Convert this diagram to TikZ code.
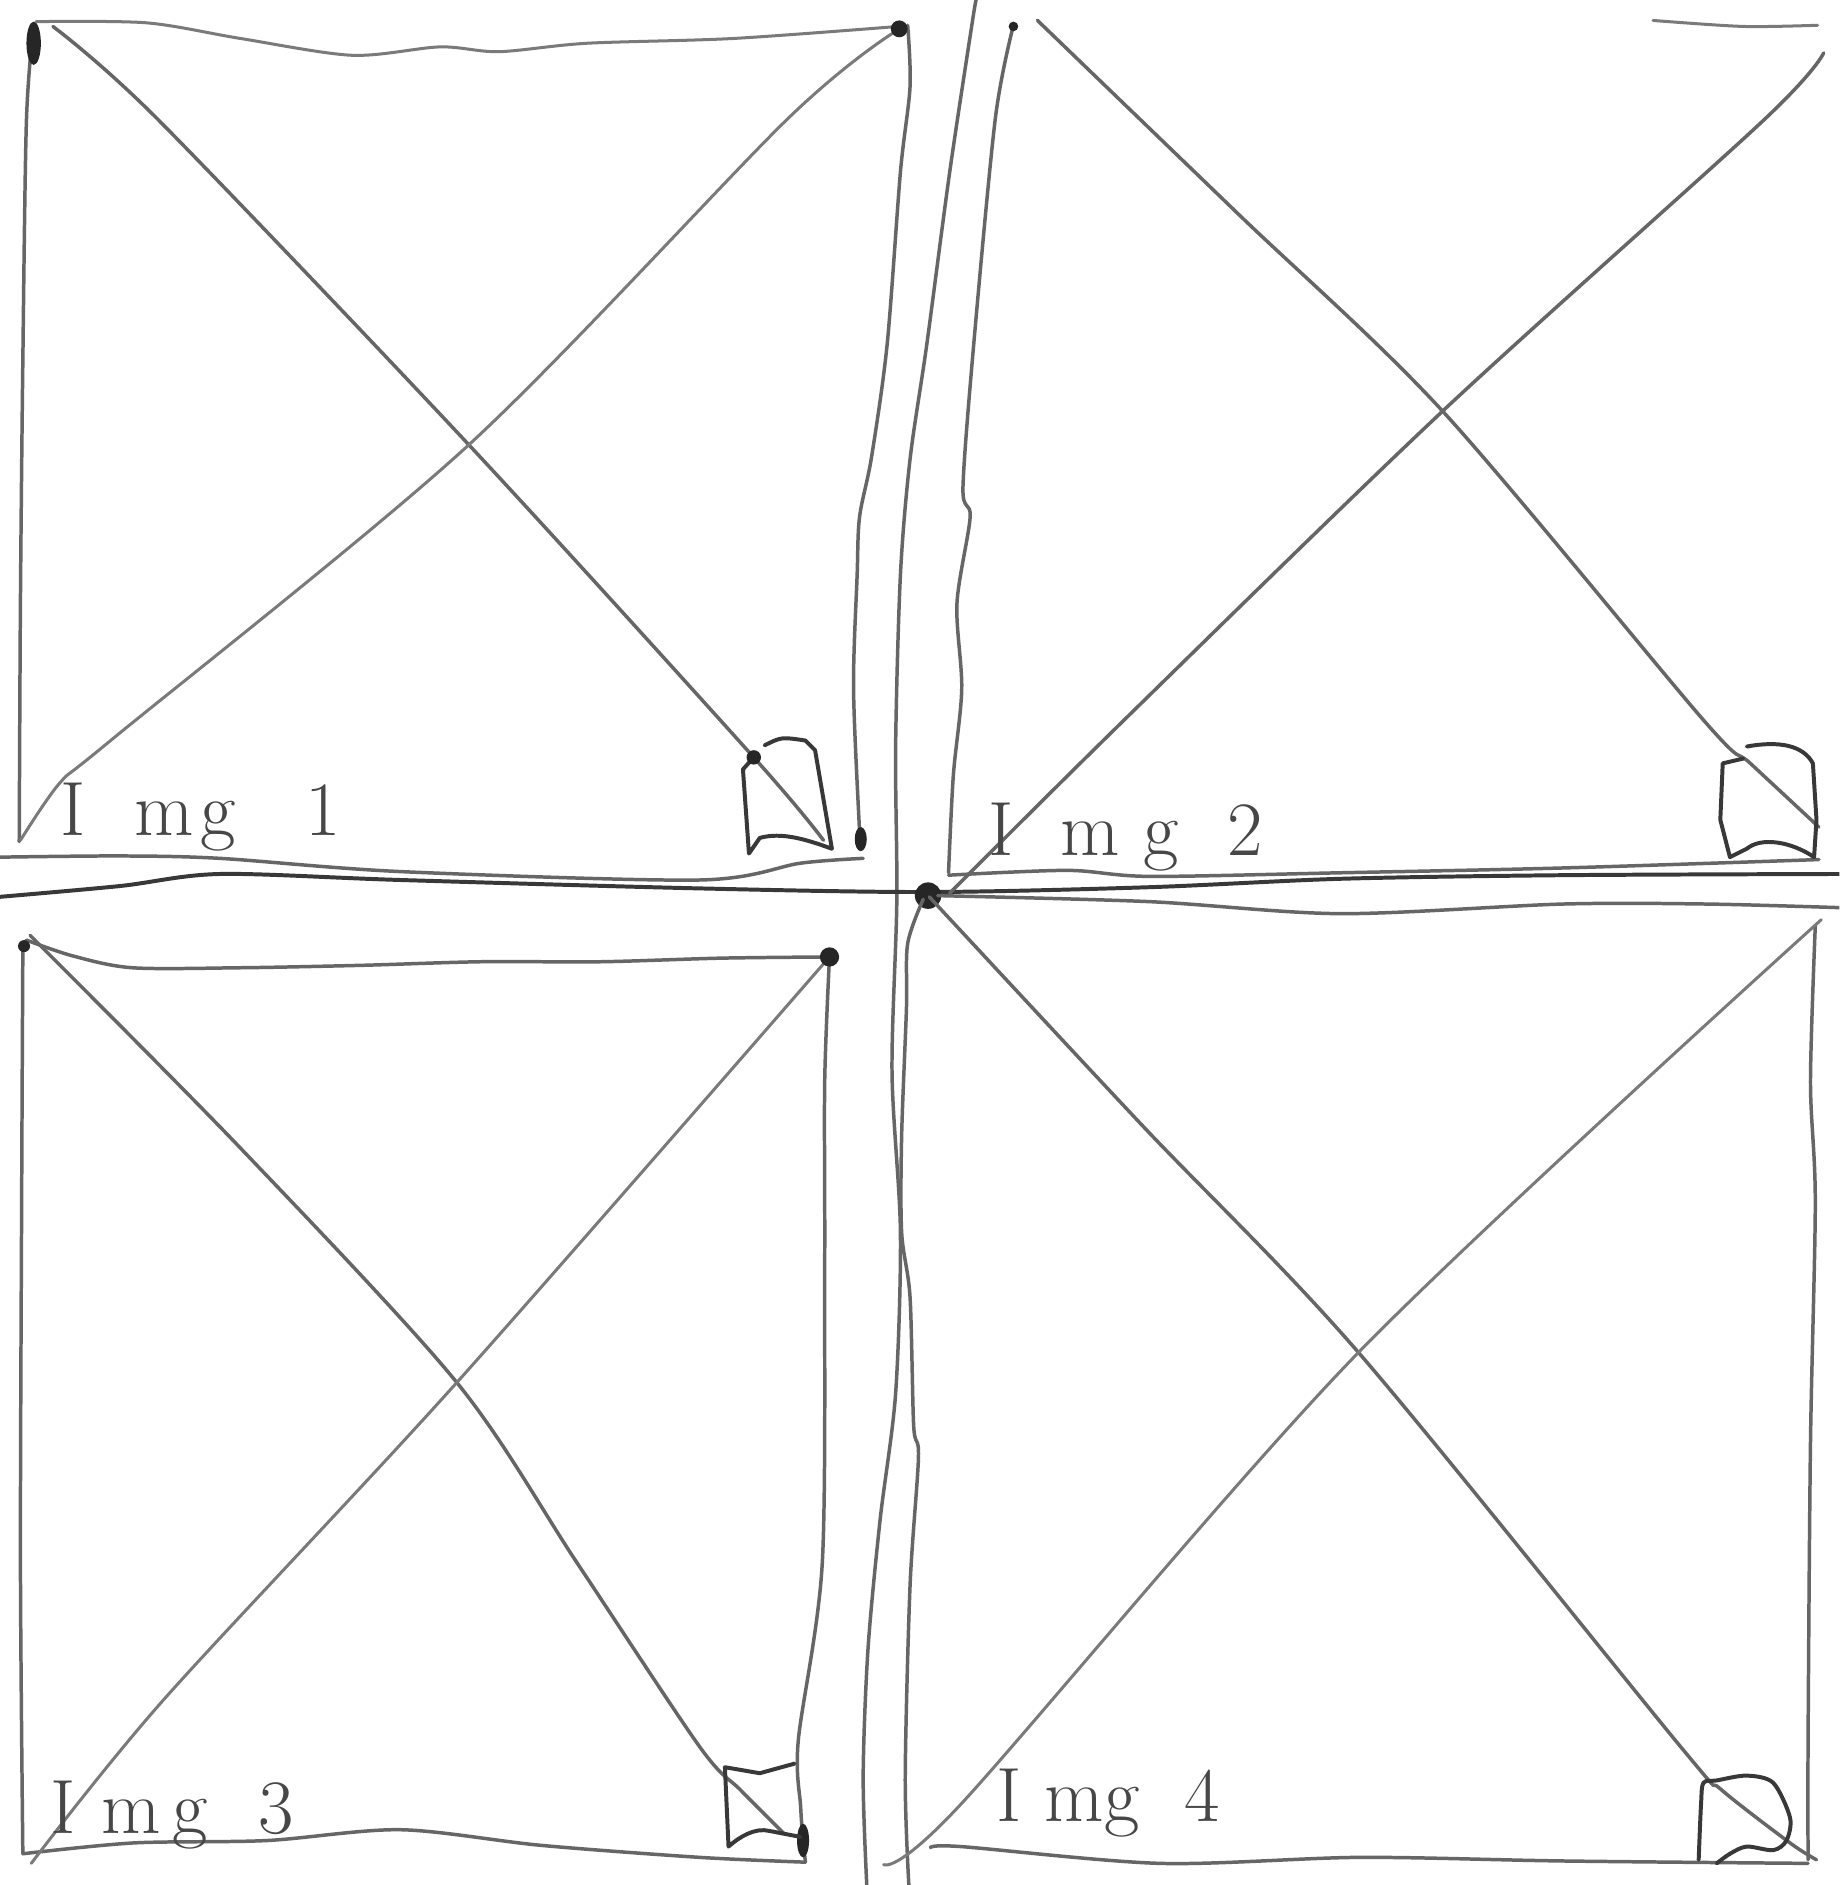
\documentclass[tikz,border=0pt]{standalone}
\usepackage{fontspec}
\begin{document}
\begin{tikzpicture}[x=1pt,y=-1pt]
\tikzset{
  pencil/.style={draw=black!60, line width=2.9pt, line cap=round, line join=round},
  darkpencil/.style={pencil, draw=black!78, line width=3.3pt},
  lightpencil/.style={pencil, draw=black!52, line width=2.5pt},
  blob/.style={fill=black!85, draw=none},
  hand/.style={text=black!72, font=\fontsize{64}{64}\selectfont, inner sep=0pt, anchor=base west},
}
\useasboundingbox (0,0) rectangle (1530,1568);
\fill[white] (0,0) rectangle (1530,1568);
\clip (0,0) rectangle (1530,1568);

% ---------- Panel 1 (top left) ----------
\draw[pencil] plot[smooth] coordinates {(28,20) (22,100) (19,300) (17,500) (16,700)};
\draw[lightpencil] plot[smooth] coordinates {(30,18) (122,19) (200,32) (293,46) (366,39) (415,43) (488,36) (610,32) (747,22)};
\draw[pencil] plot[smooth] coordinates {(755,21) (757,72) (749,143) (738,286) (725,380) (715,430) (713,478) (710,573) (715,692) (716,705)};
\draw[pencil] plot[smooth] coordinates {(0,713) (100,712) (183,714) (333,725) (582,732) (666,718) (718,714)};
\draw[pencil] plot[smooth] coordinates {(44,22) (132,100) (390,370) (627,630) (685,699)};
\draw[lightpencil] plot[smooth] coordinates {(742,28) (654,100) (390,370) (92,616) (50,651) (17,699)};
% icon 1
\draw[darkpencil] (636,620) .. controls (650,613) .. (670,616) -- (678,624) -- (692,706)
  .. controls (670,698) and (650,692) .. (632,697) -- (623,710) -- (618,640) -- (627,630);
\fill[blob] (627,630) circle (6);
\fill[blob] (716,698) ellipse (5 and 10);
\fill[blob] (28,36) ellipse (6 and 18);
\fill[blob] (748,24) circle (7);
\node[hand] (img1) at (50,695) {I\hspace{41pt}m\hspace{5pt}g\hspace{58pt}1};

% ---------- central strokes ----------
\draw[pencil] plot[smooth] coordinates {(812,0) (809,17) (790,143) (771,286) (757,382) (749,478) (745,621) (746,749) (742,892) (749,1025) (745,1159) (732,1265) (722,1372) (718,1478) (721,1568)};
\draw[darkpencil] plot[smooth] coordinates {(0,746) (100,737) (183,727) (333,732) (582,739) (773,742) (956,738) (1115,731) (1300,728) (1530,727)};
\fill[blob] (772,745) circle (11);

% ---------- Panel 2 (top right) ----------
\draw[pencil] plot[smooth] coordinates {(843,21) (828,98) (810,286) (801,406) (807,430) (796,502) (800,573) (793,645) (789,726)};
\draw[pencil] plot[smooth] coordinates {(789,728) (888,724) (956,729) (1115,726) (1300,722) (1513,715)};
\draw[lightpencil] plot[smooth] coordinates {(1375,17) (1450,22) (1512,21)};
\draw[pencil] plot[smooth] coordinates {(863,17) (1030,178) (1200,342) (1417,599) (1456,635) (1513,688)};
\draw[pencil] plot[smooth] coordinates {(1517,44) (1467,100) (1200,342) (935,599) (790,743)};
\fill[blob] (843,22) circle (4);
% icon 2
\draw[darkpencil] (1453,621) .. controls (1480,616) and (1500,620) .. (1508,635) -- (1511,682) -- (1509,713)
  .. controls (1490,700) and (1465,696) .. (1453,706) -- (1439,713) -- (1431,682) -- (1433,635) -- (1450,631);
\node[hand] (img2) at (822,712) {I\hspace{39pt}m\hspace{20pt}g\hspace{40pt}2};

% ---------- Panel 3 (bottom left) ----------
\draw[pencil] plot[smooth] coordinates {(22,782) (60,795) (110,805) (200,805) (300,803) (400,800) (500,800) (600,797) (690,796)};
\draw[pencil] plot[smooth] coordinates {(19,790) (18,1000) (17,1300) (19,1542)};
\draw[pencil] plot[smooth] coordinates {(690,796) (686,900) (686,1052) (684,1300) (664,1448) (666,1503) (668,1531) (670,1549)};
\draw[pencil] plot[smooth] coordinates {(19,1542) (111,1533) (222,1531) (333,1522) (450,1535) (582,1545) (670,1549)};
\draw[pencil] plot[smooth] coordinates {(25,778) (200,955) (380,1150) (480,1300) (582,1453) (616,1489) (652,1525)};
\draw[lightpencil] plot[smooth] coordinates {(690,796) (380,1150) (136,1414) (26,1550)};
\fill[blob] (20,787) circle (5);
\fill[blob] (690,796) circle (8);
\fill[blob] (668,1531) ellipse (5 and 14);
% icon 3
\draw[darkpencil] (661,1467) -- (632,1475) -- (603,1470) -- (606,1536)
  .. controls (615,1528) and (628,1520) .. (640,1523) -- (666,1528);
\node[hand] (img3) at (42,1525) {I\hspace{21pt}m\hspace{10pt}g\hspace{42pt}3};

% ---------- Panel 4 (bottom right) ----------
\draw[pencil] plot[smooth] coordinates {(780,745) (956,750) (1115,760) (1300,752) (1420,752) (1530,755)};
\draw[pencil] plot[smooth] coordinates {(768,748) (755,785) (754,839) (750,945) (750,1025) (757,1079) (760,1186) (764,1212) (757,1319) (753,1478) (756,1568)};
\draw[pencil] plot[smooth] coordinates {(1510,770) (1506,900) (1510,1000) (1506,1200) (1504,1448) (1504,1547)};
\draw[pencil] plot[smooth] coordinates {(774,1537) (799,1536) (965,1550) (1131,1545) (1300,1548) (1504,1550)};
\draw[pencil] plot[smooth] coordinates {(773,746) (950,936) (1130,1125) (1398,1453) (1431,1488) (1489,1533) (1511,1547)};
\draw[lightpencil] plot[smooth] coordinates {(1515,765) (1130,1125) (800,1500) (735,1551)};
% icon 4
\draw[darkpencil] plot[smooth] coordinates {(1413,1547) (1415,1500) (1417,1483) (1428,1481) (1453,1477) (1475,1483) (1489,1512) (1486,1531) (1475,1539) (1453,1536) (1439,1542) (1428,1550)};
\node[hand] (img4) at (829,1515) {I\hspace{19pt}m\hspace{0pt}g\hspace{37pt}4};
\end{tikzpicture}
\end{document}
